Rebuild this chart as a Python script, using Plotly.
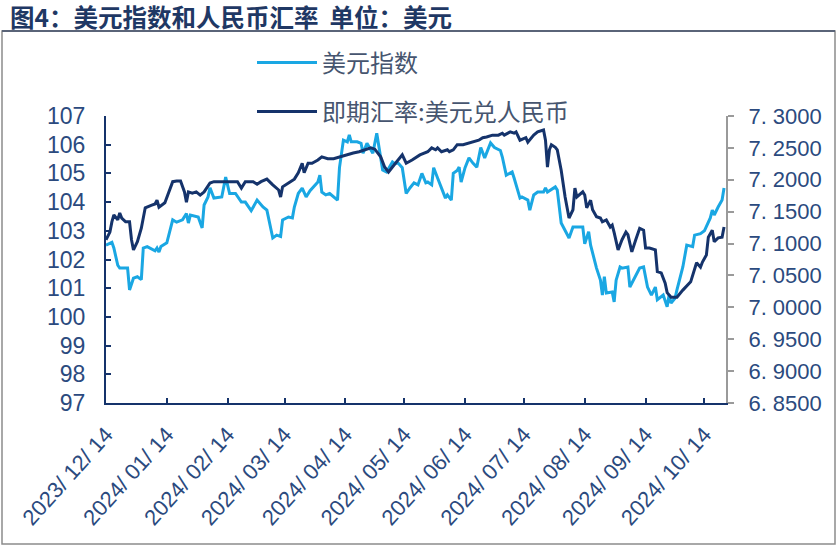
import plotly.graph_objects as go

# ---------------- data ----------------
dxy_dates = [
    "2023-12-14","2023-12-17","2023-12-18","2023-12-20","2023-12-21","2023-12-25","2023-12-26","2023-12-28","2023-12-30","2024-01-01",
    "2024-01-02","2024-01-04","2024-01-08","2024-01-09","2024-01-10","2024-01-11","2024-01-14","2024-01-17","2024-01-19","2024-01-22",
    "2024-01-24","2024-01-25","2024-01-26","2024-01-30","2024-02-01","2024-02-02","2024-02-04","2024-02-05","2024-02-07","2024-02-10",
    "2024-02-11","2024-02-13","2024-02-15","2024-02-18","2024-02-21","2024-02-23","2024-02-26","2024-02-29","2024-03-03","2024-03-05",
    "2024-03-08","2024-03-10","2024-03-12","2024-03-13","2024-03-16","2024-03-18","2024-03-19","2024-03-21","2024-03-23","2024-03-25",
    "2024-03-27","2024-03-31","2024-04-01","2024-04-02","2024-04-04","2024-04-06","2024-04-10","2024-04-11","2024-04-13","2024-04-15",
    "2024-04-16","2024-04-17","2024-04-20","2024-04-22","2024-04-23","2024-04-25","2024-04-27","2024-04-28","2024-04-30","2024-05-02",
    "2024-05-03","2024-05-05","2024-05-08","2024-05-09","2024-05-11","2024-05-13","2024-05-15","2024-05-17","2024-05-19","2024-05-21",
    "2024-05-22","2024-05-23","2024-05-25","2024-05-26","2024-05-28","2024-05-29","2024-05-31","2024-06-02","2024-06-04","2024-06-05",
    "2024-06-07","2024-06-08","2024-06-10","2024-06-11","2024-06-12","2024-06-14","2024-06-16","2024-06-18","2024-06-20","2024-06-22",
    "2024-06-24","2024-06-27","2024-06-29","2024-07-02","2024-07-03","2024-07-05","2024-07-08","2024-07-09","2024-07-12","2024-07-13",
    "2024-07-16","2024-07-17","2024-07-19","2024-07-21","2024-07-24","2024-07-25","2024-07-26","2024-07-30","2024-07-31","2024-08-02",
    "2024-08-04","2024-08-06","2024-08-08","2024-08-13","2024-08-14","2024-08-16","2024-08-17","2024-08-18","2024-08-20","2024-08-22",
    "2024-08-23","2024-08-24","2024-08-25","2024-08-28","2024-08-29","2024-08-30","2024-09-01","2024-09-02","2024-09-05","2024-09-06",
    "2024-09-09","2024-09-11","2024-09-13","2024-09-15","2024-09-17","2024-09-19","2024-09-20","2024-09-23","2024-09-25","2024-09-26",
    "2024-09-27","2024-09-29","2024-09-30","2024-10-03","2024-10-05","2024-10-08","2024-10-09","2024-10-12","2024-10-14","2024-10-17",
    "2024-10-18","2024-10-19","2024-10-21","2024-10-23","2024-10-24",
]
dxy_values = [
    102.5, 102.6, 102.4, 101.8, 101.7, 101.7, 100.94, 101.35, 101.4, 101.3,
    102.4, 102.45, 102.3, 102.4, 102.26, 102.45, 102.58, 103.38, 103.3, 103.38,
    103.6, 103.27, 103.55, 103.48, 103.1, 103.9, 104.18, 104.5, 104.14, 104.18,
    104.18, 104.87, 104.3, 104.3, 104.0, 104.0, 103.7, 104.07, 103.83, 103.72,
    102.75, 102.85, 102.8, 103.38, 103.48, 103.45, 103.83, 104.3, 104.49, 104.18,
    104.4, 104.7, 104.94, 104.35, 104.25, 104.3, 104.07, 105.2, 106.16, 106.1,
    106.34, 106.1, 106.1, 106.05, 105.7, 106.05, 105.8, 105.7, 106.4, 105.47,
    105.12, 105.05, 105.4, 105.35, 105.35, 105.2, 104.3, 104.5, 104.67, 104.6,
    104.84, 105.0, 104.67, 104.7, 104.6, 105.2, 104.84, 104.5, 104.14, 104.25,
    104.07, 105.0, 105.1, 105.22, 104.7, 105.2, 105.54, 105.36, 105.22, 105.9,
    105.54, 106.06, 105.9, 105.8, 105.57, 104.94, 105.05, 104.84, 104.14, 104.18,
    104.07, 103.72, 104.25, 104.35, 104.35, 104.5, 104.35, 104.53, 104.42, 103.27,
    103.03, 102.75, 103.13, 103.13, 102.55, 102.97, 102.5, 102.2, 101.7, 101.28,
    100.76, 101.4, 100.83, 100.87, 100.52, 101.28, 101.74, 101.7, 101.74, 101.04,
    101.45, 101.7, 101.74, 101.04, 100.76, 101.04, 100.6, 100.76, 100.35, 100.76,
    100.48, 100.65, 100.94, 101.74, 102.5, 102.45, 102.85, 102.9, 103.0, 103.45,
    103.72, 103.55, 103.83, 104.07, 104.49,
]

cny_dates = [
    "2023-12-14","2023-12-16","2023-12-17","2023-12-18","2023-12-20","2023-12-21","2023-12-22","2023-12-24","2023-12-26","2023-12-27",
    "2023-12-28","2023-12-30","2024-01-01","2024-01-03","2024-01-06","2024-01-08","2024-01-09","2024-01-10","2024-01-13","2024-01-14",
    "2024-01-17","2024-01-19","2024-01-21","2024-01-23","2024-01-24","2024-01-25","2024-01-27","2024-01-29","2024-01-31","2024-02-02",
    "2024-02-05","2024-02-07","2024-02-12","2024-02-19","2024-02-21","2024-02-23","2024-02-27","2024-02-29","2024-03-02","2024-03-05",
    "2024-03-08","2024-03-11","2024-03-12","2024-03-13","2024-03-17","2024-03-19","2024-03-21","2024-03-23","2024-03-24","2024-03-26",
    "2024-03-28","2024-03-31","2024-04-02","2024-04-05","2024-04-08","2024-04-11","2024-04-15","2024-04-18","2024-04-21","2024-04-24",
    "2024-04-27","2024-04-29","2024-05-02","2024-05-04","2024-05-06","2024-05-08","2024-05-10","2024-05-13","2024-05-15","2024-05-18",
    "2024-05-22","2024-05-26","2024-05-28","2024-05-30","2024-05-31","2024-06-02","2024-06-05","2024-06-06","2024-06-08","2024-06-10",
    "2024-06-13","2024-06-16","2024-06-18","2024-06-21","2024-06-23","2024-06-25","2024-06-28","2024-07-01","2024-07-03","2024-07-04",
    "2024-07-07","2024-07-09","2024-07-10","2024-07-12","2024-07-15","2024-07-16","2024-07-19","2024-07-21","2024-07-24","2024-07-25",
    "2024-07-26","2024-07-27","2024-07-28","2024-07-30","2024-07-31","2024-08-02","2024-08-04","2024-08-06","2024-08-08","2024-08-09",
    "2024-08-10","2024-08-13","2024-08-14","2024-08-15","2024-08-17","2024-08-18","2024-08-20","2024-08-22","2024-08-23","2024-08-25",
    "2024-08-27","2024-08-28","2024-08-29","2024-08-31","2024-09-02","2024-09-04","2024-09-05","2024-09-07","2024-09-09","2024-09-11",
    "2024-09-13","2024-09-14","2024-09-16","2024-09-19","2024-09-20","2024-09-22","2024-09-24","2024-09-25","2024-09-27","2024-09-30",
    "2024-10-03","2024-10-07","2024-10-10","2024-10-12","2024-10-13","2024-10-15","2024-10-16","2024-10-18","2024-10-19","2024-10-21",
    "2024-10-23","2024-10-24",
]
cny_values = [
    7.106, 7.118, 7.134, 7.145, 7.137, 7.148, 7.140, 7.134, 7.134, 7.106,
    7.090, 7.103, 7.124, 7.156, 7.160, 7.162, 7.168, 7.157, 7.164, 7.173,
    7.197, 7.198, 7.198, 7.181, 7.165, 7.181, 7.179, 7.181, 7.176, 7.181,
    7.195, 7.197, 7.197, 7.197, 7.187, 7.197, 7.197, 7.193, 7.197, 7.201,
    7.192, 7.184, 7.173, 7.189, 7.197, 7.201, 7.211, 7.226, 7.211, 7.226,
    7.226, 7.231, 7.236, 7.233, 7.233, 7.236, 7.239, 7.242, 7.244, 7.247,
    7.250, 7.248, 7.236, 7.220, 7.212, 7.220, 7.228, 7.239, 7.226, 7.231,
    7.239, 7.244, 7.250, 7.247, 7.250, 7.244, 7.247, 7.244, 7.247, 7.255,
    7.255, 7.258, 7.259, 7.262, 7.266, 7.267, 7.270, 7.270, 7.273, 7.270,
    7.275, 7.273, 7.275, 7.262, 7.266, 7.259, 7.270, 7.275, 7.278, 7.262,
    7.220, 7.247, 7.255, 7.251, 7.247, 7.215, 7.173, 7.140, 7.153, 7.187,
    7.173, 7.181, 7.176, 7.156, 7.168, 7.153, 7.142, 7.140, 7.134, 7.137,
    7.126, 7.129, 7.117, 7.090, 7.106, 7.118, 7.114, 7.087, 7.106, 7.124,
    7.121, 7.093, 7.093, 7.090, 7.056, 7.054, 7.038, 7.023, 7.016, 7.016,
    7.027, 7.040, 7.070, 7.063, 7.071, 7.082, 7.110, 7.121, 7.103, 7.109,
    7.110, 7.126,
]

x_tick_vals = ["2023-12-14","2024-01-14","2024-02-14","2024-03-14","2024-04-14","2024-05-14",
               "2024-06-14","2024-07-14","2024-08-14","2024-09-14","2024-10-14"]
x_tick_text = ["2023/ 12/ 14","2024/ 01/ 14","2024/ 02/ 14","2024/ 03/ 14","2024/ 04/ 14","2024/ 05/ 14",
               "2024/ 06/ 14","2024/ 07/ 14","2024/ 08/ 14","2024/ 09/ 14","2024/ 10/ 14"]
y2_tick_vals = [6.85, 6.90, 6.95, 7.00, 7.05, 7.10, 7.15, 7.20, 7.25, 7.30]
y2_tick_text = ["6. 8500","6. 9000","6. 9500","7. 0000","7. 0500","7. 1000","7. 1500","7. 2000","7. 2500","7. 3000"]

series_names = ["美元指数", "即期汇率:美元兑人民币"]
title_text = "图4：美元指数和人民币汇率  单位：美元"

# ---------------- style ----------------
W, H = 839, 546
L, R, T, B = 106, 113, 116, 143
PW, PH = W - L - R, H - T - B
LIGHT = "#1AA7E3"
NAVY = "#15336B"
TICKCOL = "#2B4A7E"
NUMFONT = "Liberation Sans, Arial, sans-serif"
CJK = "Noto Sans CJK SC"


def px_x(px):
    return (px - L) / PW


def px_y(py):
    return (H - B - py) / PH


fig = go.Figure()
fig.add_trace(go.Scatter(x=dxy_dates, y=dxy_values, name=series_names[0], mode="lines",
                         line=dict(color=LIGHT, width=3), yaxis="y", legend="legend"))
fig.add_trace(go.Scatter(x=cny_dates, y=cny_values, name=series_names[1], mode="lines",
                         line=dict(color=NAVY, width=3), yaxis="y2", legend="legend2"))

legend_common = dict(xref="container", yref="container", xanchor="left", yanchor="middle",
                     font=dict(family=CJK, size=24, color="#46556F"), itemwidth=60,
                     bgcolor="rgba(0,0,0,0)", borderwidth=0)

fig.update_layout(
    width=W, height=H,
    margin=dict(l=L, r=R, t=T, b=B, autoexpand=False),
    paper_bgcolor="white", plot_bgcolor="white",
    showlegend=True,
    legend=dict(x=252 / W, y=1 - 63 / H, **legend_common),
    legend2=dict(x=252 / W, y=1 - 112 / H, **legend_common),
    xaxis=dict(type="date", range=["2023-12-14", "2024-10-25"],
               tickmode="array", tickvals=x_tick_vals, ticktext=x_tick_text,
               tickangle=-48, ticks="inside", ticklen=5, tickwidth=1.5, tickcolor=NAVY,
               showline=True, linecolor=NAVY, linewidth=2, showgrid=False, zeroline=False,
               tickfont=dict(family=NUMFONT, size=22, color=TICKCOL), ticklabelstandoff=8),
    yaxis=dict(range=[97, 107], dtick=1, tick0=97, ticks="inside", ticklen=5, tickwidth=1.5,
               tickcolor=NAVY, showline=True, linecolor=NAVY, linewidth=2,
               showgrid=False, zeroline=False,
               tickfont=dict(family=NUMFONT, size=23, color=TICKCOL), ticklabelstandoff=14),
    yaxis2=dict(range=[6.85, 7.30], overlaying="y", side="right", anchor="x",
                tickmode="array", tickvals=y2_tick_vals, ticktext=y2_tick_text,
                ticks="outside", ticklen=6, tickwidth=1.5, tickcolor="#9A9A9A",
                showline=True, linecolor="#9A9A9A", linewidth=2,
                showgrid=False, zeroline=False,
                tickfont=dict(family=NUMFONT, size=22, color=TICKCOL), ticklabelstandoff=10),
)

# outer frame and title underline
fig.add_shape(type="rect", xref="paper", yref="paper",
              x0=px_x(2), x1=px_x(835), y0=px_y(544), y1=px_y(31),
              line=dict(color="#8C8C8C", width=1.5), layer="below")
fig.add_shape(type="line", xref="paper", yref="paper",
              x0=px_x(2), x1=px_x(835), y0=px_y(31), y1=px_y(31),
              line=dict(color="#5A6478", width=2))

fig.add_annotation(text=f"<b>{title_text}</b>", xref="paper", yref="paper",
                   x=px_x(8), y=px_y(17), xanchor="left", yanchor="middle", showarrow=False,
                   font=dict(family=CJK, size=24.5, color="#1F3864"))

fig.write_html("out.html", config={"displayModeBar": False},
               post_script="document.body.style.margin='0px';document.body.style.overflow='hidden';")
